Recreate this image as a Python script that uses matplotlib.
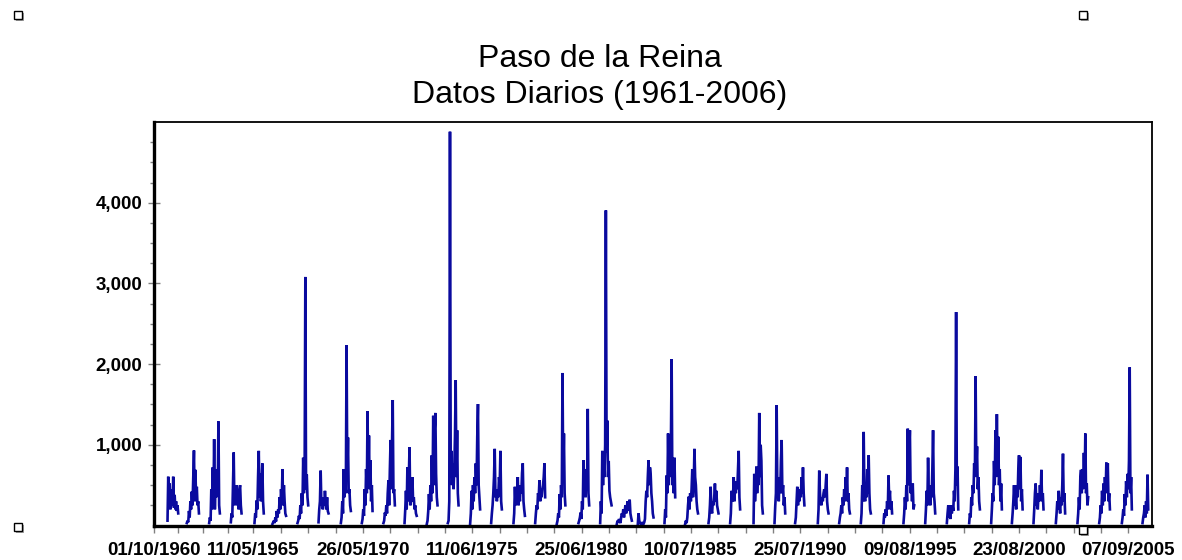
import numpy as np
import pandas as pd
import matplotlib
matplotlib.use("Agg")
import matplotlib.pyplot as plt
import matplotlib.dates as mdates
from matplotlib.patches import Rectangle

plt.rcParams['font.family'] = ['Liberation Sans', 'DejaVu Sans']

# fecha del primer registro de cada temporada (un dato cada 12 dias)
inicio = ["1961-05-25", "1962-04-15", "1963-04-26", "1964-04-25", "1965-05-28",
          "1966-03-27", "1967-05-22", "1968-05-10", "1969-05-21", "1970-05-09",
          "1971-05-08", "1972-04-27", "1973-05-07", "1974-04-26", "1975-05-06",
          "1976-04-24", "1977-05-05", "1978-05-05", "1979-05-04", "1980-05-03",
          "1981-05-03", "1982-02-08", "1983-01-27", "1984-04-20", "1985-04-03",
          "1986-05-01", "1987-04-30", "1988-05-28", "1989-05-16", "1990-04-28",
          "1991-05-15", "1992-05-09", "1993-05-08", "1994-05-25", "1995-04-26",
          "1996-04-26", "1997-04-25", "1998-05-06", "1999-05-11", "2000-04-24",
          "2001-04-23", "2002-05-04", "2003-05-03", "2004-05-03", "2005-05-19",
          "2006-05-02"]

# caudal (m3/s) de cada temporada
caudal = [
    [60, 605, 250, 520, 200, 450, 300, 250, 605, 220, 380, 200, 300, 180, 250, 150],
    [30, 60, 40, 180, 100, 300, 200, 420, 250, 600, 930, 300, 690, 350, 480, 250, 300, 150],
    [30, 100, 60, 450, 200, 720, 300, 1070, 200, 600, 350, 700, 400, 1290, 250, 150],
    [40, 150, 100, 500, 905, 250, 450, 300, 500, 250, 400, 200, 450, 500, 250, 150],
    [30, 150, 100, 310, 200, 600, 925, 350, 650, 300, 500, 770, 300, 150],
    [20, 40, 60, 30, 100, 50, 180, 100, 200, 150, 350, 200, 450, 300, 700, 250, 500, 300, 150, 120],
    [30, 60, 120, 80, 250, 150, 400, 250, 840, 400, 600, 3080, 450, 630, 350, 250],
    [40, 200, 300, 680, 250, 350, 200, 300, 250, 430, 300, 200, 350, 180, 150],
    [30, 100, 300, 150, 700, 350, 650, 400, 2235, 600, 1090, 400, 450, 250, 180],
    [30, 80, 200, 120, 450, 250, 700, 400, 1415, 500, 1115, 450, 810, 300, 500, 180],
    [30, 60, 160, 120, 250, 150, 400, 560, 250, 700, 1060, 450, 1000, 1555, 400, 450, 250],
    [30, 200, 430, 200, 720, 300, 600, 970, 250, 300, 450, 600, 300, 350, 200, 250, 150, 120],
    [20, 60, 180, 390, 200, 500, 300, 870, 400, 1360, 500, 1200, 1395, 640, 350, 250],
    [30, 60, 300, 4880, 700, 925, 500, 770, 450, 700, 1100, 1800, 600, 1180, 400, 250],
    [20, 150, 430, 200, 500, 300, 600, 400, 770, 500, 1100, 1505, 500, 350, 200],
    [30, 150, 250, 400, 600, 950, 350, 450, 300, 400, 350, 600, 500, 925, 300, 200],
    [30, 150, 480, 250, 350, 300, 600, 250, 400, 300, 500, 400, 650, 770, 300, 200, 120],
    [30, 150, 250, 200, 400, 350, 560, 300, 400, 350, 450, 500, 600, 770, 350],
    [20, 60, 150, 100, 390, 200, 500, 350, 1890, 600, 1140, 400, 250],
    [30, 60, 100, 160, 80, 300, 200, 810, 400, 600, 350, 700, 450, 1445, 400, 250],
    [30, 300, 150, 925, 500, 900, 600, 1000, 3905, 900, 1300, 600, 800, 430, 350, 300, 250],
    [20, 60, 40, 80, 50, 30, 100, 150, 120, 200, 100, 180, 250, 150, 220, 300, 180, 250, 320, 150, 100, 60],
    [20, 150, 60, 30, 20, 20, 30, 20, 20, 40, 80, 300, 430, 350, 600, 810, 500, 720, 640, 400, 300, 150, 100],
    [30, 200, 100, 620, 400, 1140, 500, 900, 600, 1000, 2060, 500, 770, 400, 840, 350],
    [20, 60, 30, 100, 250, 357, 200, 400, 300, 450, 700, 350, 500, 950, 600, 500, 300, 200, 150],
    [30, 100, 250, 480, 200, 150, 300, 250, 350, 520, 300, 430, 250, 200, 150],
    [30, 150, 430, 300, 350, 600, 300, 500, 400, 550, 450, 700, 925, 350, 200],
    [30, 640, 300, 450, 730, 400, 600, 500, 1395, 600, 1000, 800, 250, 150],
    [30, 240, 400, 1490, 400, 480, 300, 600, 400, 800, 1060, 400, 500, 250, 350, 150],
    [30, 100, 300, 480, 250, 400, 300, 450, 350, 600, 400, 720, 400, 250],
    [30, 200, 680, 400, 300, 250, 350, 300, 400, 450, 350, 500, 640, 300, 200, 150],
    [30, 100, 150, 250, 150, 350, 250, 450, 300, 600, 350, 720, 300, 400, 200, 150],
    [30, 150, 500, 300, 1160, 400, 300, 500, 350, 700, 400, 870, 400, 200, 150],
    [30, 150, 100, 200, 120, 300, 200, 620, 300, 430, 200, 300, 150],
    [30, 150, 350, 200, 500, 300, 1200, 500, 900, 1180, 400, 500, 300, 520, 200, 250],
    [30, 200, 430, 250, 840, 400, 500, 250, 500, 350, 700, 1180, 400, 300, 150],
    [30, 150, 250, 100, 150, 80, 250, 150, 250, 180, 430, 300, 700, 2645, 500, 730, 200],
    [30, 150, 100, 350, 250, 500, 400, 770, 600, 1850, 700, 980, 450, 600, 300, 200],
    [30, 200, 400, 300, 800, 500, 1180, 600, 1380, 700, 1100, 500, 700, 300, 520, 200],
    [30, 150, 300, 500, 250, 350, 200, 500, 350, 700, 870, 450, 850, 300, 450, 200],
    [30, 200, 400, 520, 250, 300, 200, 400, 300, 500, 350, 690, 300, 400, 200],
    [30, 150, 300, 200, 430, 250, 150, 350, 250, 500, 890, 300, 400, 150],
    [30, 150, 350, 200, 600, 690, 400, 700, 450, 900, 500, 1140, 400, 520, 250, 350],
    [30, 100, 250, 150, 430, 250, 520, 300, 600, 400, 780, 450, 770, 300, 400, 200],
    [30, 100, 200, 120, 390, 250, 550, 350, 640, 450, 800, 1960, 400, 600, 200],
    [30, 100, 150, 250, 100, 300, 150, 630, 200],
]

fechas_eje = ["01/10/1960", "11/05/1965", "26/05/1970", "11/06/1975", "25/06/1980",
              "10/07/1985", "25/07/1990", "09/08/1995", "23/08/2000", "07/09/2005"]

# serie diaria: cada temporada separada por un hueco
paso = pd.Timedelta(days=12)
t, q = [], []
for ini, vals in zip(inicio, caudal):
    t0 = pd.Timestamp(ini)
    t.extend(t0 + paso * i for i in range(len(vals)))
    q.extend(vals)
    t.append(t0 + paso * len(vals))
    q.append(np.nan)
t = pd.to_datetime(t)
q = np.array(q, dtype=float)

W, H = 1182, 560
fig = plt.figure(figsize=(W / 100, H / 100), dpi=100)
ax = fig.add_axes([153.5 / W, 1 - 525.5 / H, 998 / W, 403.5 / H])

ax.plot(t, q, color='#0a0a9e', lw=1.9, solid_joinstyle='miter')

ax.set_xlim(pd.Timestamp("1960-10-01"), pd.Timestamp("2006-09-30"))
ax.set_ylim(0, 5000)

mayores = mdates.date2num(pd.to_datetime(fechas_eje, dayfirst=True))
menores = []
for a, b in zip(mayores[:-1], mayores[1:]):
    menores += [a + (b - a) * k / 4 for k in (1, 2, 3)]
ax.set_xticks(mayores)
ax.set_xticklabels(fechas_eje)
ax.set_xticks(menores, minor=True)

ax.set_yticks([1000, 2000, 3000, 4000])
ax.set_yticklabels([f"{v:,}" for v in [1000, 2000, 3000, 4000]])
ax.set_yticks(np.arange(250, 5000, 250), minor=True)

ax.tick_params(axis='x', which='both', direction='out', length=5, width=1,
               color='#808080', pad=7)
ax.tick_params(axis='y', which='major', direction='inout', length=8, width=1,
               color='#808080', pad=4)
ax.tick_params(axis='y', which='minor', direction='out', length=3, width=1,
               color='#808080')
for lbl in ax.get_xticklabels() + ax.get_yticklabels():
    lbl.set_fontsize(13.5)
    lbl.set_fontweight('bold')

for s in ('left', 'bottom'):
    ax.spines[s].set_linewidth(2.4)
for s in ('top', 'right'):
    ax.spines[s].set_linewidth(1.3)

fig.text(600 / W, 1 - 77 / H, "Paso de la Reina\nDatos Diarios (1961-2006)",
         ha='center', va='center', fontsize=23, linespacing=1.29)

# marcas de seleccion del objeto grafico
for px, py in [(14, 11), (1079, 11), (14, 523), (1079, 526)]:
    fig.add_artist(Rectangle(((px + 2) / W, 1 - (py + 10) / H), 8 / W, 8 / H,
                             transform=fig.transFigure, facecolor='#a0a0a0',
                             edgecolor='none'))
    fig.add_artist(Rectangle((px / W, 1 - (py + 8) / H), 8 / W, 8 / H,
                             transform=fig.transFigure, facecolor='white',
                             edgecolor='black', lw=1))

fig.savefig("out.png", dpi=100)
